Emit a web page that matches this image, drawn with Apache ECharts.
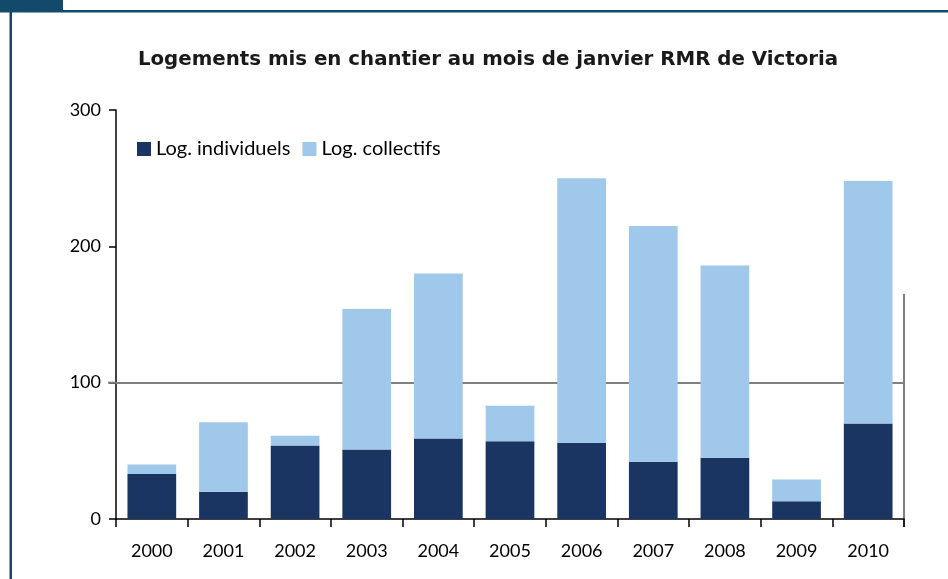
<!DOCTYPE html>
<html>
<head>
<meta charset="utf-8">
<script src="https://cdn.jsdelivr.net/npm/echarts@6/dist/echarts.min.js"></script>
<style>
html,body{margin:0;padding:0;background:#fff;}
#c{width:948px;height:579px;}
</style>
</head>
<body>
<div id="c"></div>
<script>
const categories = ['2000','2001','2002','2003','2004','2005','2006','2007','2008','2009','2010'];
const individuels = [33, 20, 54, 51, 59, 57, 56, 42, 45, 13, 70];
const collectifs  = [7, 51, 7, 103, 121, 26, 194, 173, 141, 16, 178];
const yTicks = [0, 100, 200, 300];

const FRAME = '#134a6c';
const chart = echarts.init(document.getElementById('c'), null, {renderer: 'canvas'});
chart.setOption({
  animation: false,
  backgroundColor: '#fff',
  textStyle: {fontFamily: 'Lato'},
  title: {
    text: 'Logements mis en chantier au mois de janvier RMR de Victoria',
    left: 483, top: 45, textAlign: 'center',
    textStyle: {fontFamily: 'DejaVu Sans', fontWeight: 'bold', fontSize: 19.8, color: '#1a1a1a'}
  },
  legend: {
    left: 132, top: 134, itemWidth: 14, itemHeight: 14, itemGap: 12,
    icon: 'rect',
    textStyle: {fontFamily: 'Lato', fontSize: 20, color: '#000', padding: [0,0,0,0]},
    data: ['Log. individuels', 'Log. collectifs']
  },
  grid: {left: 116, top: 110, width: 788, height: 409, containLabel: false},
  xAxis: {
    type: 'category', data: categories,
    axisLine: {lineStyle: {color: '#000', width: 1.5}},
    axisTick: {show: true, length: 8, inside: false, lineStyle: {color: '#000', width: 1.5}},
    axisLabel: {fontFamily: 'Lato', fontSize: 18, color: '#000', margin: 23},
    splitLine: {show: false}
  },
  yAxis: {
    type: 'value', min: 0, max: 300, interval: 100,
    axisLine: {show: true, lineStyle: {color: '#000', width: 1.5}},
    axisTick: {show: true, length: 7, lineStyle: {color: '#000', width: 1.5}},
    axisLabel: {fontFamily: 'Lato', fontSize: 18, color: '#000', margin: 15,
      formatter: v => yTicks.includes(v) ? String(v) : ''},
    splitLine: {show: false}
  },
  series: [
    {
      name: 'Log. individuels', type: 'bar', stack: 't', data: individuels,
      barWidth: '68%', itemStyle: {color: '#1b3562'},
      markLine: {
        silent: true, symbol: 'none', label: {show: false},
        lineStyle: {color: '#808080', width: 2, type: 'solid'},
        data: [{yAxis: 100}],
        z: 1
      },
      z: 3
    },
    {
      name: 'Log. collectifs', type: 'bar', stack: 't', data: collectifs,
      barWidth: '68%', itemStyle: {color: '#9fc8ea'}, z: 3
    }
  ]
});
const xr = 116 + 788;
const pTop = chart.convertToPixel({gridIndex: 0}, [10, 165]);
const pBot = chart.convertToPixel({gridIndex: 0}, [10, 0]);
const p100 = chart.convertToPixel({gridIndex: 0}, [0, 100]);
chart.setOption({graphic: [
  {type: 'rect', shape: {x: 0, y: 0, width: 63, height: 12}, style: {fill: FRAME}},
  {type: 'rect', shape: {x: 0, y: 10, width: 948, height: 2.5}, style: {fill: FRAME}},
  {type: 'rect', shape: {x: 9.5, y: 10, width: 2.5, height: 569}, style: {fill: FRAME}},
  {type: 'line', shape: {x1: xr, y1: pTop[1], x2: xr, y2: pBot[1] + 8}, style: {stroke: '#808080', lineWidth: 2}},
  {type: 'line', shape: {x1: 108, y1: p100[1], x2: 116, y2: p100[1]}, style: {stroke: '#808080', lineWidth: 2}, z: 10}
]});
</script>
</body>
</html>
